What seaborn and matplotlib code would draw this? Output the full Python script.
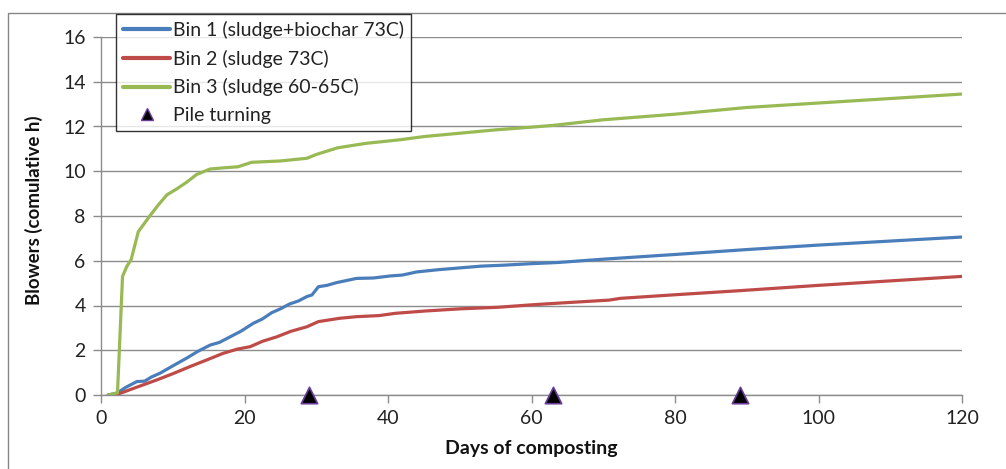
import numpy as np
import pandas as pd
import seaborn as sns
import matplotlib.pyplot as plt
from matplotlib.patches import Rectangle
from matplotlib.lines import Line2D

# Cumulative blower running time per composting bin
bin1_days = [1, 2.2, 3.5, 5, 6.1, 7, 8.2, 10, 11.9, 13.5, 15.2, 16.5, 18, 19.5, 21.2, 22.5,
             23.8, 25, 26.3, 27.5, 28.7, 29.4, 30.3, 31.5, 32.8, 35.6, 38, 40.3, 42, 44, 47,
             50, 53, 56, 60, 63.6, 70, 80, 90, 100, 110, 120]
bin1_hours = [0, 0.08, 0.35, 0.6, 0.62, 0.8, 0.97, 1.3, 1.64, 1.95, 2.23, 2.35, 2.6, 2.85, 3.2,
              3.4, 3.68, 3.85, 4.07, 4.2, 4.4, 4.47, 4.84, 4.9, 5.02, 5.21, 5.23, 5.32, 5.36,
              5.5, 5.6, 5.68, 5.76, 5.8, 5.87, 5.92, 6.07, 6.28, 6.5, 6.7, 6.88, 7.06]

bin2_days = [1, 2.2, 5, 7.75, 10, 12.4, 15, 17, 19, 20.8, 22.5, 24.5, 26.5, 28.7, 30.3, 33.3,
             35.6, 38.8, 41, 45, 50, 55.3, 60, 65, 70.8, 72.4, 80, 88.4, 100, 110, 120]
bin2_hours = [0, 0.02, 0.35, 0.67, 0.95, 1.27, 1.6, 1.86, 2.05, 2.16, 2.4, 2.6, 2.85, 3.05,
              3.28, 3.43, 3.5, 3.55, 3.65, 3.75, 3.85, 3.92, 4.03, 4.13, 4.24, 4.32, 4.48,
              4.65, 4.9, 5.1, 5.3]

bin3_days = [1, 2.3, 3.0, 3.6, 4.2, 5.2, 6.8, 8.0, 9.2, 10.5, 11.9, 13.3, 15.2, 17, 19.1, 21,
             25, 28.7, 30, 31.5, 33, 35, 37, 40, 42, 45, 50, 55, 60, 63, 70, 80, 90, 100, 110, 120]
bin3_hours = [0, 0.1, 5.3, 5.75, 6.05, 7.3, 8.0, 8.5, 8.95, 9.2, 9.5, 9.85, 10.1, 10.15, 10.2,
              10.4, 10.46, 10.58, 10.75, 10.9, 11.05, 11.15, 11.25, 11.35, 11.42, 11.55, 11.7,
              11.85, 11.97, 12.05, 12.3, 12.55, 12.85, 13.05, 13.25, 13.45]

turning_days = [29, 63, 89]
turning_hours = [0, 0, 0]

series_names = ["Bin 1 (sludge+biochar 73C)", "Bin 2 (sludge 73C)", "Bin 3 (sludge 60-65C)"]
turning_name = "Pile turning"

frames = []
for name, d, h in zip(series_names, [bin1_days, bin2_days, bin3_days],
                      [bin1_hours, bin2_hours, bin3_hours]):
    frames.append(pd.DataFrame({"day": d, "hours": h, "series": name}))
lines_df = pd.concat(frames, ignore_index=True)
turn_df = pd.DataFrame({"day": turning_days, "hours": turning_hours})

colors = ["#4A7EBB", "#BE4B48", "#98B954"]
palette = dict(zip(series_names, colors))
grid_gray = "#8C8C8C"

sns.set_theme(style="white")
plt.rcParams["font.family"] = ["Lato", "DejaVu Sans"]

fig = plt.figure(figsize=(10.06, 4.69), dpi=100)
ax = fig.add_axes([101 / 1006, 74 / 469, 861 / 1006, 358 / 469])

# chart area border
fig.patches.append(Rectangle((8 / 1006, -0.1), 1.2, (469 - 13) / 469 + 0.1,
                             transform=fig.transFigure, fill=False,
                             edgecolor="#868686", linewidth=1.0, zorder=0))

sns.lineplot(data=lines_df, x="day", y="hours", hue="series", palette=palette,
             hue_order=series_names, estimator=None, sort=False, linewidth=2.3,
             legend=False, ax=ax)
sns.scatterplot(data=turn_df, x="day", y="hours", marker="^", s=140, color="black",
                edgecolor="#6A3D9A", linewidth=1.2, clip_on=False, zorder=5,
                legend=False, ax=ax)

ax.set_xlim(0, 120)
ax.set_ylim(0, 16)
ax.set_xticks(np.arange(0, 121, 20))
ax.set_yticks(np.arange(0, 17, 2))
ax.yaxis.grid(True, color=grid_gray, linewidth=1.0)
ax.xaxis.grid(False)
ax.set_axisbelow(True)
for side in ["top", "right"]:
    ax.spines[side].set_visible(False)
for side in ["left", "bottom"]:
    ax.spines[side].set_color(grid_gray)
    ax.spines[side].set_linewidth(1.0)
ax.tick_params(axis="both", which="major", direction="out", length=6, width=1,
               color=grid_gray, labelsize=14, labelcolor="#222222", pad=5,
               left=True, bottom=True)

ax.set_xlabel("Days of composting", fontsize=14, fontweight="bold", labelpad=9,
              color="#111111")
ax.set_ylabel("Blowers (comulative h)", fontsize=13.5, fontweight="bold",
              color="#111111")
ax.yaxis.set_label_coords(-0.067, 0.515)

handles = [Line2D([0], [0], color=c, linewidth=3.0) for c in colors]
handles.append(Line2D([0], [0], marker="^", linestyle="none", markersize=9,
                      markerfacecolor="black", markeredgecolor="#6A3D9A"))
leg = fig.legend(handles, series_names + [turning_name], loc="upper left",
                 bbox_to_anchor=(116 / 1006, 1 - 14 / 469), frameon=True, fancybox=False,
                 fontsize=14, handlelength=2.45, handletextpad=0.15, labelspacing=0.55,
                 borderpad=0.35, borderaxespad=0)
leg.get_frame().set_edgecolor("black")
leg.get_frame().set_linewidth(1.0)
for t in leg.get_texts():
    t.set_color("#222222")

fig.savefig("out.png", dpi=100)
